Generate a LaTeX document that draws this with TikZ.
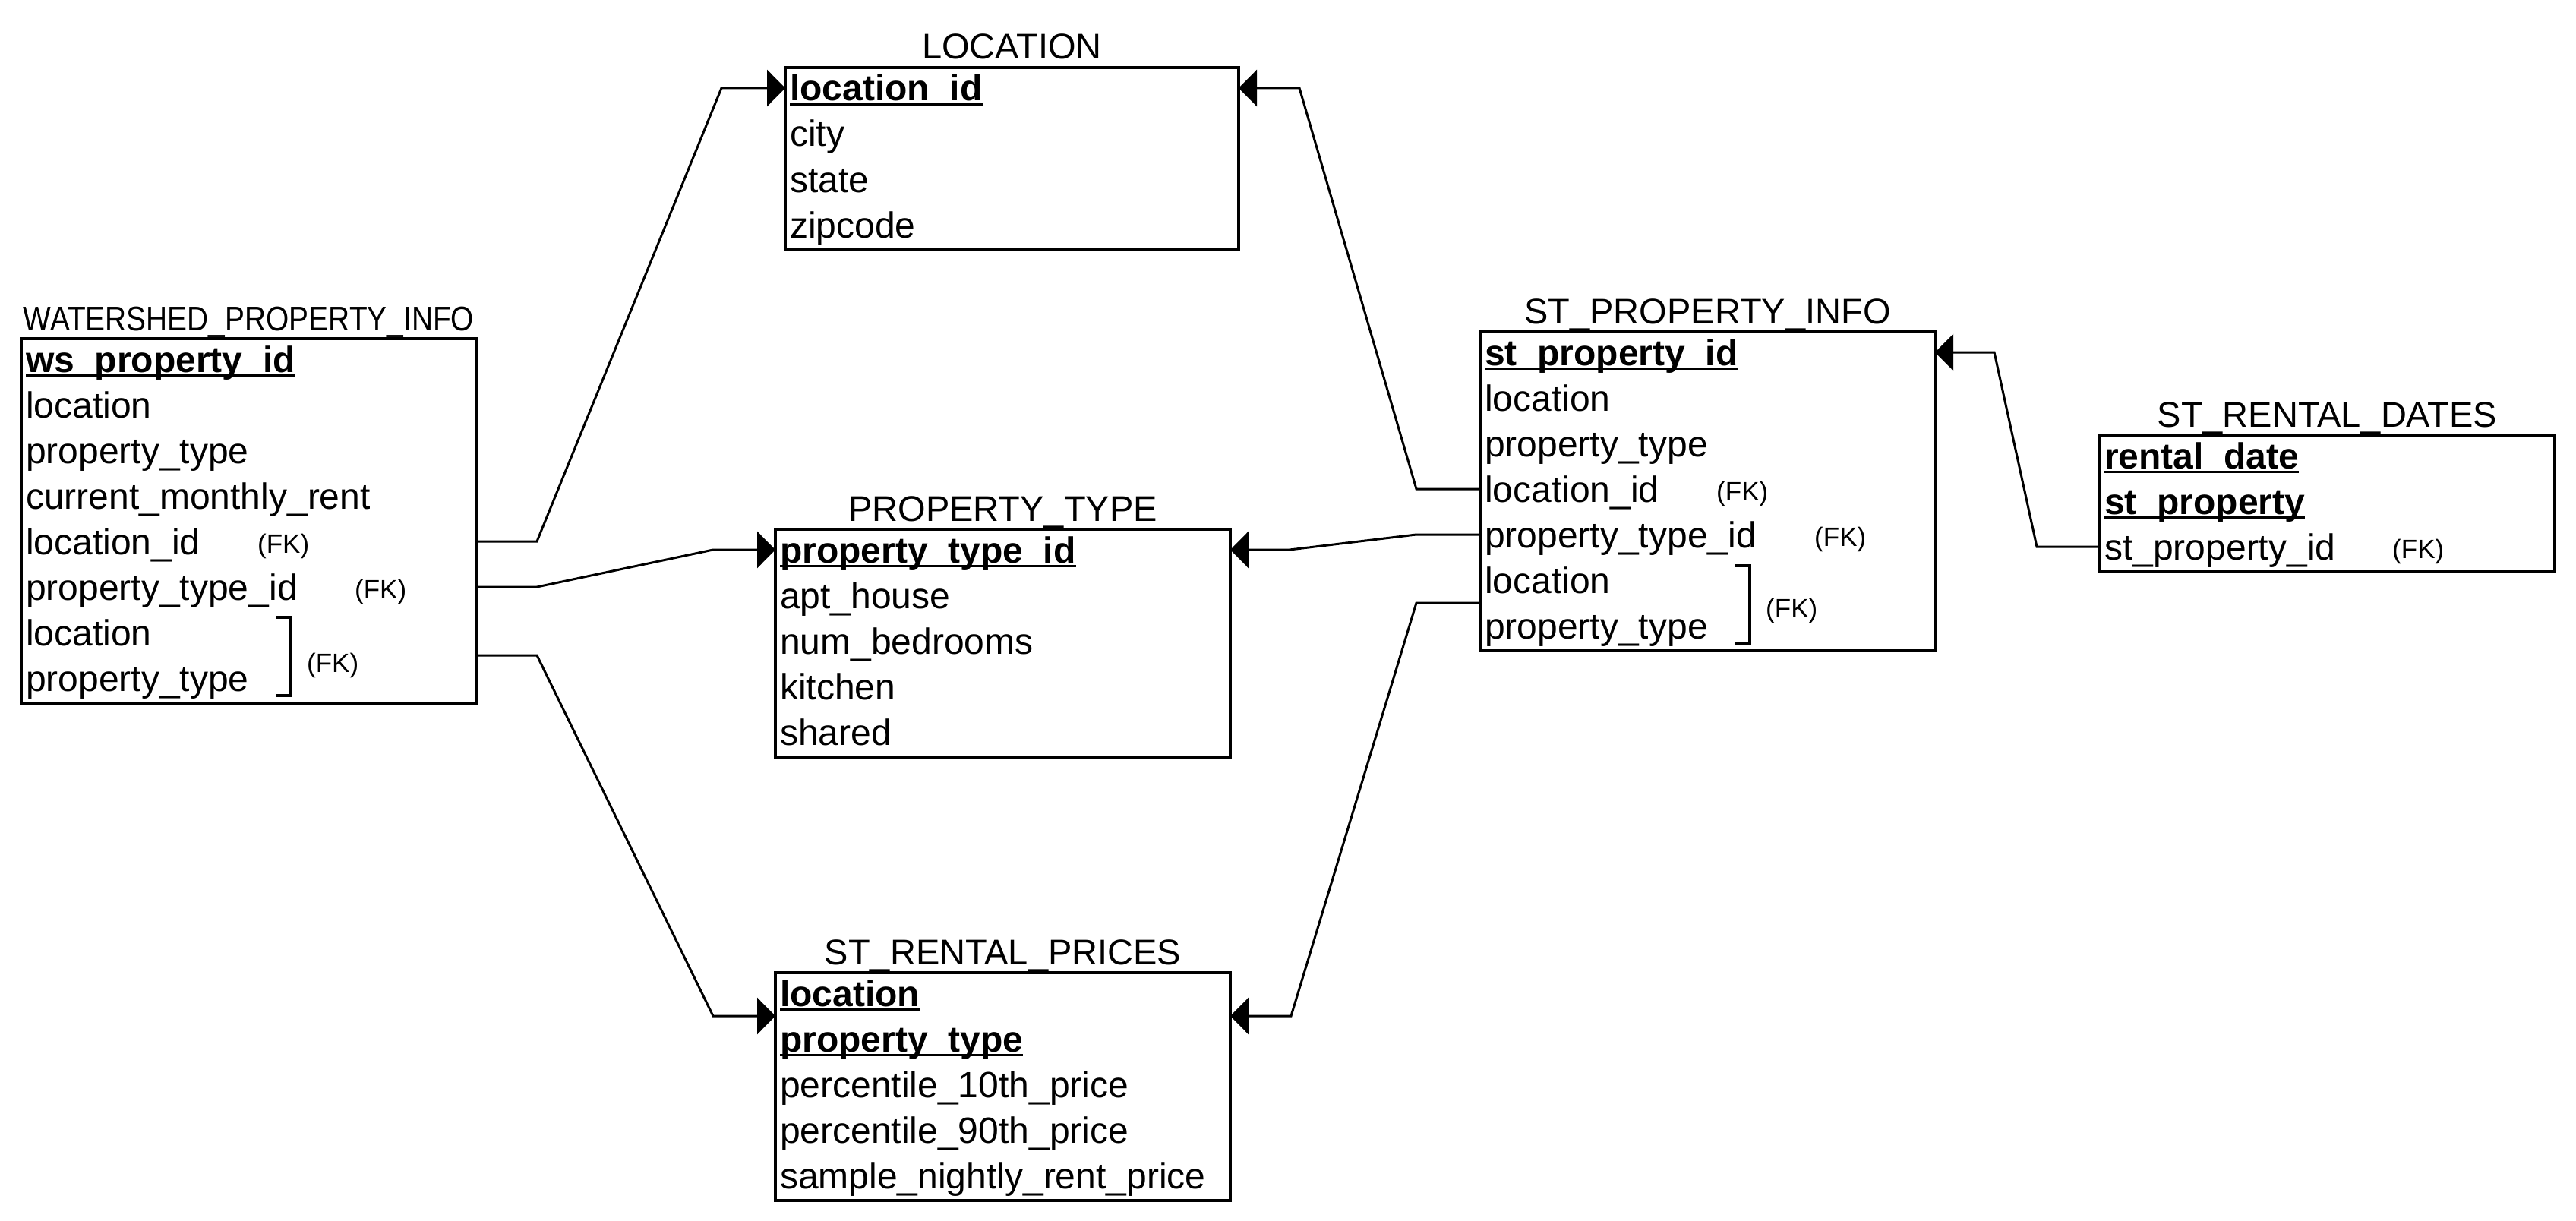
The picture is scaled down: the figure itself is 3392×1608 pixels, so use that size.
\documentclass[tikz,border=0pt]{standalone}
\usepackage{fontspec}
\usepackage{graphicx}
\setmainfont{Liberation Sans}
\usetikzlibrary{arrows.meta}
\newcommand\pkey[1]{\setbox0=\hbox{\bfseries #1}\rlap{\rule[-6pt]{\wd0}{3.5pt}}\box0}
\begin{document}
\begin{tikzpicture}[x=1pt,y=-1pt,
  tbl/.style={draw, line width=3.2pt, anchor=north west, inner sep=0pt, outer sep=0pt, minimum width=599pt},
  fld/.style={anchor=base west, inner sep=0pt, font=\fontsize{48}{58}\selectfont},
  ttl/.style={anchor=base, inner sep=0pt, font=\fontsize{47}{56}\selectfont},
  fk/.style={anchor=base west, inner sep=0pt, font=\fontsize{35}{42}\selectfont},
  conn/.style={line width=3pt, -{Triangle[length=24pt,width=48pt]}},
  brk/.style={line width=3.2pt}]
\useasboundingbox (0,0) rectangle (3392,1608);

% WATERSHED_PROPERTY_INFO
\node[tbl, minimum height=480pt] (ws) at (28,446) {};
\node[ttl] (wst) at (327.5,435) {\scalebox{0.864}[1]{\fontsize{45}{54}\selectfont WATERSHED\_PROPERTY\_INFO}};
\node[fld] (ws1) at (34,490) {\pkey{ws\_property\_id}};
\node[fld] (ws2) at (34,550) {location};
\node[fld] (ws3) at (34,610) {property\_type};
\node[fld] (ws4) at (34,670) {current\_monthly\_rent};
\node[fld] (ws5) at (34,730) {location\_id};
\node[fld] (ws6) at (34,790) {property\_type\_id};
\node[fld] (ws7) at (34,850) {location};
\node[fld] (ws8) at (34,910) {property\_type};
\node[fk] (wsfk1) at (339,728) {(FK)};
\node[fk] (wsfk2) at (467,788) {(FK)};
\draw[brk] (364,813) -- (383,813) -- (383,916) -- (364,916);
\node[fk] (wsfk3) at (404,885) {(FK)};

% LOCATION
\node[tbl, minimum width=597pt, minimum height=240pt] (loc) at (1034,89) {};
\node[ttl] (loct) at (1332.5,78) {LOCATION};
\node[fld] (loc1) at (1040,133) {\pkey{location\_id}};
\node[fld] (loc2) at (1040,193) {city};
\node[fld] (loc3) at (1040,253) {state};
\node[fld] (loc4) at (1040,313) {zipcode};

% PROPERTY_TYPE
\node[tbl, minimum height=300pt] (pt) at (1021,697) {};
\node[ttl] (ptt) at (1320.5,686) {PROPERTY\_TYPE};
\node[fld] (pt1) at (1027,741) {\pkey{property\_type\_id}};
\node[fld] (pt2) at (1027,801) {apt\_house};
\node[fld] (pt3) at (1027,861) {num\_bedrooms};
\node[fld] (pt4) at (1027,921) {kitchen};
\node[fld] (pt5) at (1027,981) {shared};

% ST_RENTAL_PRICES
\node[tbl, minimum height=300pt] (srp) at (1021,1281) {};
\node[ttl] (srpt) at (1320.5,1270) {ST\_RENTAL\_PRICES};
\node[fld] (srp1) at (1027,1325) {\pkey{location}};
\node[fld] (srp2) at (1027,1385) {\pkey{property\_type}};
\node[fld] (srp3) at (1027,1445) {percentile\_10th\_price};
\node[fld] (srp4) at (1027,1505) {percentile\_90th\_price};
\node[fld] (srp5) at (1027,1565) {sample\_nightly\_rent\_price};

% ST_PROPERTY_INFO
\node[tbl, minimum height=420pt] (spi) at (1949,437) {};
\node[ttl] (spit) at (2248.5,426) {ST\_PROPERTY\_INFO};
\node[fld] (spi1) at (1955,481) {\pkey{st\_property\_id}};
\node[fld] (spi2) at (1955,541) {location};
\node[fld] (spi3) at (1955,601) {property\_type};
\node[fld] (spi4) at (1955,661) {location\_id};
\node[fld] (spi5) at (1955,721) {property\_type\_id};
\node[fld] (spi6) at (1955,781) {location};
\node[fld] (spi7) at (1955,841) {property\_type};
\node[fk] (spifk1) at (2260,659) {(FK)};
\node[fk] (spifk2) at (2389,719) {(FK)};
\draw[brk] (2285,745) -- (2304,745) -- (2304,848) -- (2285,848);
\node[fk] (spifk3) at (2325,813) {(FK)};

% ST_RENTAL_DATES
\node[tbl, minimum height=180pt] (srd) at (2765,573) {};
\node[ttl] (srdt) at (3064.5,562) {ST\_RENTAL\_DATES};
\node[fld] (srd1) at (2771,617) {\pkey{rental\_date}};
\node[fld] (srd2) at (2771,677) {\pkey{st\_property}};
\node[fld] (srd3) at (2771,737) {st\_property\_id};
\node[fk] (srdfk) at (3150,735) {(FK)};

% connectors
\draw[conn] ([yshift=-267pt]ws.north east) -- ++(80,0) -- (950,116) -- ([yshift=-27pt]loc.north west);
\draw[conn] ([yshift=-327pt]ws.north east) -- ++(80,0) -- (939,724) -- ([yshift=-27pt]pt.north west);
\draw[conn] ([yshift=-417pt]ws.north east) -- ++(80,0) -- (939,1338) -- ([yshift=-57pt]srp.north west);
\draw[conn] ([yshift=-207pt]spi.north west) -- ++(-84,0) -- (1711,116) -- ([yshift=-27pt]loc.north east);
\draw[conn] ([yshift=-267pt]spi.north west) -- ++(-84,0) -- (1698,724) -- ([yshift=-27pt]pt.north east);
\draw[conn] ([yshift=-357pt]spi.north west) -- ++(-84,0) -- (1700,1338) -- ([yshift=-57pt]srp.north east);
\draw[conn] ([yshift=-147pt]srd.north west) -- ++(-83,0) -- (2626,464) -- ([yshift=-27pt]spi.north east);
\end{tikzpicture}
\end{document}
